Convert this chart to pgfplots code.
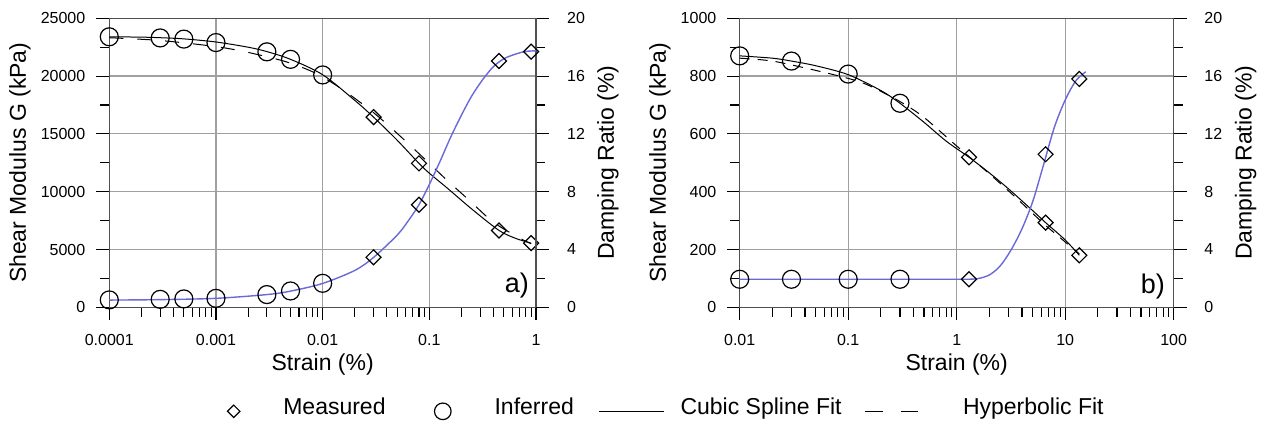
\documentclass[border=0pt]{standalone}
\usepackage{pgfplots}
\pgfplotsset{compat=1.18}
\usepackage{fontspec}
\setmainfont{Liberation Sans}
\definecolor{dampblue}{RGB}{105,105,215}
\definecolor{gridgray}{RGB}{160,160,160}
\definecolor{spine}{RGB}{80,80,80}
\newcommand{\tickfont}{\fontsize{16}{19}\selectfont}
\newcommand{\labfont}{\fontsize{23}{27}\selectfont}
\newcommand{\panfont}{\fontsize{27}{32}\selectfont}
\pgfplotsset{
  panelaxis/.style={
    scale only axis, height=289pt,
    tick align=inside,
    major tick length=-13pt, minor tick length=-9.5pt,
    tick style={black, line width=1.1pt},
    axis line style={spine, line width=1.2pt},
    ticklabel style={font=\tickfont},
    xticklabel style={anchor=center, inner sep=0pt},
    xticklabel shift=32.2pt,
    label style={font=\labfont},
    /pgf/number format/assume math mode=true,
    /pgf/number format/1000 sep={},
    scaled y ticks=false,
    clip=false,
  },
  leftticks/.style={yticklabel style={anchor=east, inner sep=0pt}, yticklabel shift=#1},
  rightticks/.style={yticklabel style={anchor=west, inner sep=0pt}, yticklabel shift=#1},
  gmark circ/.style={only marks, mark=o, mark size=9pt, mark options={black, line width=1.2pt}, forget plot},
  gmark diam/.style={only marks, mark=square, mark size=5.3pt, mark options={black, line width=1.2pt, rotate=45}, forget plot},
  spline/.style={black, line width=1pt, smooth, tension=0.5, no marks, forget plot},
  hyper/.style={black, line width=1pt, smooth, tension=0.5, no marks, dash pattern=on 14pt off 14pt, forget plot},
  damp/.style={dampblue, line width=1.4pt, smooth, tension=0.5, no marks, forget plot},
}
\begin{document}
\begin{tikzpicture}
\useasboundingbox (0pt,0pt) rectangle (1261pt,422pt);
% ---------------- panel a, shear modulus ----------------
\begin{axis}[panelaxis, xmode=log, width=426.7pt, at={(109.3pt,114.7pt)}, anchor=south west,
  xmin=1e-4, xmax=1, ymin=0, ymax=25000,
  xtick={1e-4,1e-3,1e-2,1e-1,1}, xticklabels={0.0001,0.001,0.01,0.1,1},
  minor xtick={2e-4,3e-4,4e-4,5e-4,6e-4,7e-4,8e-4,9e-4,2e-3,3e-3,4e-3,5e-3,6e-3,7e-3,8e-3,9e-3,2e-2,3e-2,4e-2,5e-2,6e-2,7e-2,8e-2,9e-2,0.2,0.3,0.4,0.5,0.6,0.7,0.8,0.9},
  ytick={0,5000,...,25000}, minor ytick={2500,7500,12500,17500,22500},
  leftticks=23.8pt,
  tick pos=left, xmajorgrids, ymajorgrids, major grid style={gridgray, line width=1.2pt},
  xlabel={Strain (\%)}, ylabel={Shear Modulus G (kPa)},
  xlabel style={at={(axis description cs:0.5,-0.197)}, anchor=center},
  ylabel style={at={(axis description cs:-0.2093,0.5)}, anchor=center},
  legend columns=4, legend cell align=left,
  legend style={at={(axis description cs:0.2126,-0.36)}, anchor=west, draw=none, fill=none,
    inner sep=0pt, column sep=0pt, row sep=0pt,
    nodes={inner sep=0pt, font=\labfont, text height=0.74em, text depth=0.2em}},
]
\addlegendimage{legend image code/.code={
  \path (0pt,-9pt) (82.7pt,9pt);
  \draw[black, line width=1.2pt] plot[mark=square, mark size=4.4pt, mark options={rotate=45}] coordinates {(33.3pt,0pt)};}}
\addlegendentry{Measured}
\addlegendimage{legend image code/.code={
  \path (0pt,-9pt) (108.6pt,9pt);
  \draw[black, line width=1.2pt] plot[mark=o, mark size=8.3pt] coordinates {(57pt,0pt)};}}
\addlegendentry{Inferred}
\addlegendimage{legend image code/.code={
  \path (0pt,-9pt) (106.3pt,9pt);
  \draw[black, line width=1pt] (24.7pt,0pt) -- (89.7pt,0pt);}}
\addlegendentry{Cubic Spline Fit}
\addlegendimage{legend image code/.code={
  \path (0pt,-9pt) (121pt,9pt);
  \draw[black, line width=1pt, dash pattern=on 18pt off 18pt] (22.7pt,0pt) -- (76pt,0pt);}}
\addlegendentry{Hyperbolic Fit}
% cubic spline fit
\addplot[spline] coordinates {
 (1e-4,23400) (2e-4,23370) (3e-4,23320) (5e-4,23220) (1e-3,22950) (2e-3,22500)
 (3e-3,22120) (5e-3,21450) (0.01,20120) (0.02,17900) (0.03,16450) (0.05,14450)
 (0.08,12450) (0.1,11600) (0.15,10250) (0.25,8500) (0.45,6650) (0.65,5950) (0.9,5550)};
% hyperbolic fit
\addplot[hyper] coordinates {
 (1e-4,23320) (3e-4,23080) (1e-3,22550) (2e-3,22050) (4.5e-3,21250) (8.5e-3,20270)
 (0.015,18900) (0.029,16950) (0.048,15190) (0.082,13200) (0.14,11160) (0.235,9280)
 (0.4,7350) (0.7,6000) (0.9,5500)};
% inferred
\addplot[gmark circ] coordinates {
 (1e-4,23400) (3e-4,23300) (5e-4,23200) (1e-3,22900) (3e-3,22100) (5e-3,21450) (0.01,20100)};
% measured
\addplot[gmark diam] coordinates {
 (0.03,16450) (0.08,12450) (0.45,6650) (0.9,5550)};
\node[anchor=base east, font=\panfont, inner sep=0pt] at (axis description cs:0.9836,0.0495) {a)};
\end{axis}
% ---------------- panel a, damping ----------------
\begin{axis}[panelaxis, xmode=log, width=426.7pt, at={(109.3pt,114.7pt)}, anchor=south west,
  xmin=1e-4, xmax=1, ymin=0, ymax=20,
  axis x line=none, axis y line*=right,
  ytick={0,4,...,20}, minor ytick={2,6,10,14,18},
  rightticks=31pt,
  ylabel={Damping Ratio (\%)},
  ylabel style={at={(axis description cs:1.1687,0.5)}, anchor=center},
]
\addplot[damp] coordinates {
 (1e-4,0.50) (3e-4,0.53) (1e-3,0.62) (3e-3,0.88) (5e-3,1.12) (0.01,1.65)
 (0.02,2.55) (0.03,3.45) (0.05,5.0) (0.063,5.95) (0.08,7.1) (0.1,8.5) (0.126,10.1)
 (0.158,11.75) (0.2,13.3) (0.251,14.65) (0.316,15.75) (0.398,16.65) (0.5,17.2)
 (0.63,17.5) (0.79,17.7) (1,17.75)};
\addplot[gmark circ] coordinates {
 (1e-4,0.51) (3e-4,0.55) (5e-4,0.58) (1e-3,0.62) (3e-3,0.88) (5e-3,1.13) (0.01,1.66)};
\addplot[gmark diam] coordinates {
 (0.03,3.46) (0.08,7.1) (0.45,17.05) (0.9,17.69)};
\end{axis}
% ---------------- panel b, shear modulus ----------------
\begin{axis}[panelaxis, xmode=log, width=434pt, at={(739.7pt,114.7pt)}, anchor=south west,
  xmin=0.01, xmax=100, ymin=0, ymax=1000,
  xtick={0.01,0.1,1,10,100}, xticklabels={0.01,0.1,1,10,100},
  minor xtick={0.02,0.03,0.04,0.05,0.06,0.07,0.08,0.09,0.2,0.3,0.4,0.5,0.6,0.7,0.8,0.9,2,3,4,5,6,7,8,9,20,30,40,50,60,70,80,90},
  ytick={0,200,...,1000}, minor ytick={100,300,500,700,900},
  leftticks=23.2pt,
  tick pos=left, xmajorgrids, ymajorgrids, major grid style={gridgray, line width=1.2pt},
  xlabel={Strain (\%)}, ylabel={Shear Modulus G (kPa)},
  xlabel style={at={(axis description cs:0.5,-0.197)}, anchor=center},
  ylabel style={at={(axis description cs:-0.1836,0.5)}, anchor=center},
]
\addplot[spline] coordinates {
 (0.01,870) (0.02,862) (0.03,852) (0.05,836) (0.1,805) (0.2,750) (0.3,706)
 (0.5,640) (0.8,575) (1.3,519) (2,465) (3,410) (5,335) (6.6,293) (10,233) (13.5,180)};
\addplot[hyper, dash pattern=on 10pt off 8pt] coordinates {
 (0.01,862) (0.02,852) (0.046,823) (0.1,792) (0.152,769) (0.3,712) (0.5,657)
 (1,558) (2,462) (3.5,380) (6.4,288) (10,226) (13.5,185)};
\addplot[gmark circ] coordinates {
 (0.01,870) (0.03,852) (0.1,807) (0.3,706)};
\addplot[gmark diam] coordinates {
 (1.3,519) (6.6,293) (13.5,180)};
\node[anchor=base east, font=\panfont, inner sep=0pt] at (axis description cs:0.98,0.0485) {b)};
\end{axis}
% ---------------- panel b, damping ----------------
\begin{axis}[panelaxis, xmode=log, width=434pt, at={(739.7pt,114.7pt)}, anchor=south west,
  xmin=0.01, xmax=100, ymin=0, ymax=20,
  axis x line=none, axis y line*=right,
  ytick={0,4,...,20}, minor ytick={2,6,10,14,18},
  rightticks=30.5pt,
  ylabel={Damping Ratio (\%)},
  ylabel style={at={(axis description cs:1.1657,0.5)}, anchor=center},
]
\addplot[damp] coordinates {
 (0.01,1.94) (0.1,1.94) (0.5,1.94) (1.0,1.94) (1.26,1.94) (1.58,1.99) (2.0,2.24)
 (2.51,2.85) (3.16,3.95) (3.98,5.4) (5.01,7.3) (6.31,9.85) (7.94,12.45)
 (10,14.35) (12.6,15.7) (15.5,16.3)};
\addplot[gmark circ] coordinates {
 (0.01,1.94) (0.03,1.94) (0.1,1.94) (0.3,1.94)};
\addplot[gmark diam] coordinates {
 (1.3,1.94) (6.6,10.59) (13.5,15.8)};
\end{axis}
\end{tikzpicture}
\end{document}
